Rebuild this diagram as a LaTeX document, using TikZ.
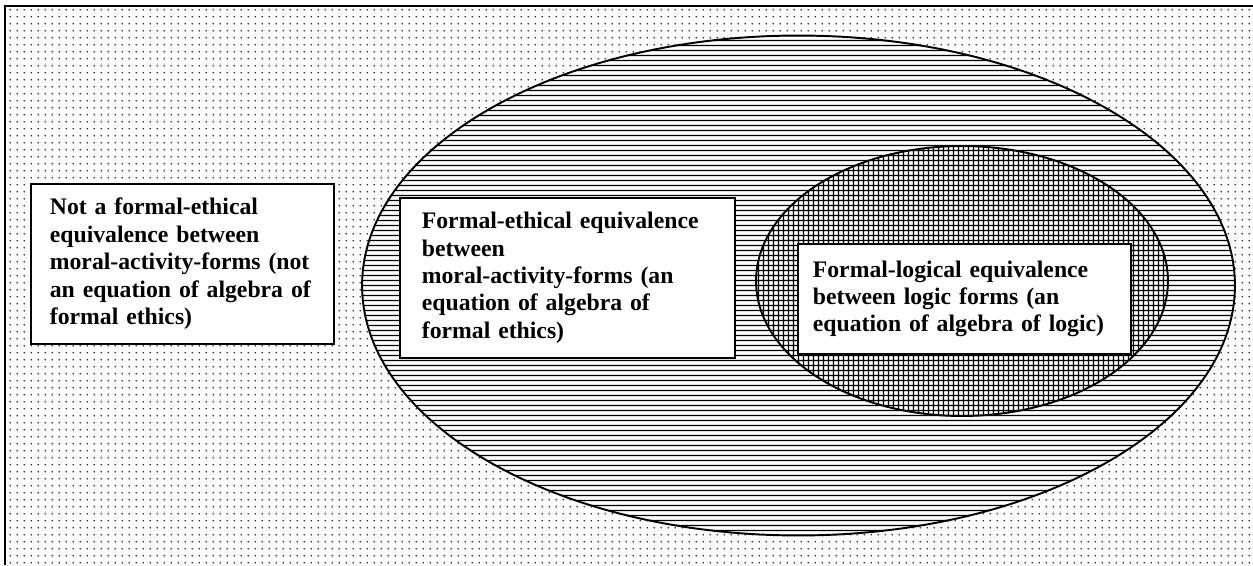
\documentclass[tikz,border=0pt]{standalone}
\usepackage{fontspec}
\setmainfont{Liberation Serif}
\usetikzlibrary{patterns,positioning}

% fill patterns of the three regions
\pgfdeclarepatternformonly{finedots}{\pgfpointorigin}{\pgfqpoint{4.14pt}{4.14pt}}{\pgfqpoint{4.14pt}{4.14pt}}{%
  \pgfpathcircle{\pgfqpoint{2.07pt}{2.07pt}}{0.55pt}\pgfusepath{fill}}
\pgfdeclarepatternformonly{hlines}{\pgfpointorigin}{\pgfqpoint{3.1pt}{3.1pt}}{\pgfqpoint{3.1pt}{3.1pt}}{%
  \pgfsetlinewidth{0.85pt}%
  \pgfpathmoveto{\pgfqpoint{0pt}{1.55pt}}\pgfpathlineto{\pgfqpoint{3.1pt}{1.55pt}}%
  \pgfusepath{stroke}}
\pgfdeclarepatternformonly{gridlines}{\pgfpointorigin}{\pgfqpoint{3.1pt}{3.1pt}}{\pgfqpoint{3.1pt}{3.1pt}}{%
  \pgfsetlinewidth{0.85pt}%
  \pgfpathmoveto{\pgfqpoint{0pt}{1.55pt}}\pgfpathlineto{\pgfqpoint{3.1pt}{1.55pt}}%
  \pgfpathmoveto{\pgfqpoint{1.55pt}{0pt}}\pgfpathlineto{\pgfqpoint{1.55pt}{3.1pt}}%
  \pgfusepath{stroke}}

\begin{document}
\begin{tikzpicture}[x=0.02cm, y=-0.02cm,
    txtbox/.style={draw, line width=1pt, fill=white, anchor=north west, align=left,
      inner xsep=0.44cm, inner ysep=0pt, font=\bfseries\fontsize{13.5}{15.6}\selectfont}]
    \useasboundingbox (0,0) rectangle (1253,565);

    % dotted universe
    \fill[pattern=finedots, pattern color=black!85] (5,5) rectangle (1253,565);
    \draw[line width=1.1pt] (5,565) -- (5,6) -- (1253,6);

    % formal-ethical equivalences
    \path[draw, line width=1.1pt, preaction={fill=white}, pattern=hlines]
        (798.5,285.5) ellipse [x radius=8.73cm, y radius=5cm];
    % formal-logical equivalences
    \path[draw, line width=1.1pt, preaction={fill=white}, pattern=gridlines]
        (962,281) ellipse [x radius=4.12cm, y radius=2.7cm];

    \node[txtbox, inner xsep=0.38cm, text width=5.3cm, minimum height=3.2cm] (notbox) at (30,183)
        {Not a formal-ethical\\equivalence between\\moral-activity-forms (not\\an equation of algebra of\\formal ethics)};
    \node[txtbox, text width=5.82cm, minimum height=3.2cm] (ethbox) at (399,197)
        {Formal-ethical equivalence\\between\\moral-activity-forms (an\\equation of algebra of\\formal ethics)};
    \node[txtbox, inner xsep=0.3cm, text width=6.06cm, minimum height=2.2cm] (logbox) at (797,243)
        {Formal-logical equivalence\\between logic forms (an\\equation of algebra of logic)};
\end{tikzpicture}
\end{document}
